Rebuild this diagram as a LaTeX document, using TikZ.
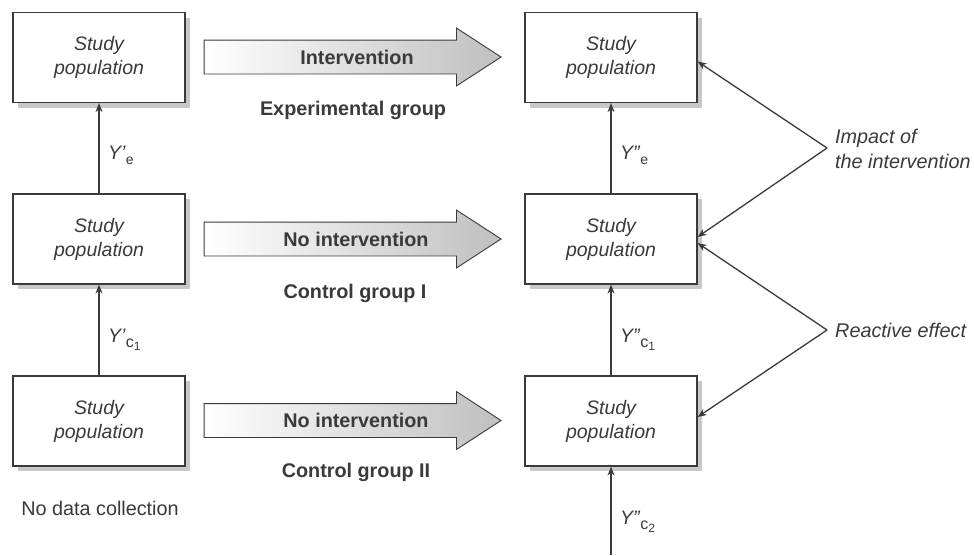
\documentclass[tikz,border=0pt]{standalone}
\usepackage{fontspec}
\setmainfont{Liberation Sans}
\usetikzlibrary{arrows.meta,shapes.arrows,shadows,calc}
\definecolor{ink}{HTML}{3A3A3A}
\definecolor{shade}{HTML}{C8C8C8}
\begin{document}
\begin{tikzpicture}[x=1pt,y=-1pt,
  box/.style={draw=ink, line width=1.2pt, fill=white, minimum width=172pt,
    minimum height=90pt, inner sep=0pt, align=center,
    font=\fontsize{19.5}{24}\selectfont\itshape, text=ink,
    drop shadow={shadow xshift=5pt, shadow yshift=-5pt, fill=shade, opacity=1}},
  bigarrow/.style={single arrow, draw=ink, line width=0.9pt, left color=white,
    right color=gray!50, minimum height=297pt, minimum width=57pt,
    single arrow head extend=12pt, single arrow tip angle=66,
    text height=11pt, text depth=4pt, inner ysep=9pt, inner xsep=0pt},
  grp/.style={font=\fontsize{19.8}{22}\selectfont\bfseries, text=ink, inner sep=0pt},
  plain/.style={font=\fontsize{19.8}{22}\selectfont, text=ink, inner sep=0pt},
  ital/.style={font=\fontsize{19.8}{25}\selectfont\itshape, text=ink, inner sep=0pt, align=left},
  ylab/.style={font=\fontsize{19.5}{22}\selectfont, text=ink, inner sep=0pt},
  conn/.style={draw=ink, line width=1.3pt, -{Stealth[length=9pt,width=7pt]}}
]
\fill[white] (0,0) rectangle (974,555);
\useasboundingbox (0,0) rectangle (974,555);

% boxes
\node[box] (L1) at (99,57.5) {Study\\population};
\node[box] (L2) at (99,239) {Study\\population};
\node[box] (L3) at (99,421) {Study\\population};
\node[box] (R1) at (611,57.5) {Study\\population};
\node[box] (R2) at (611,239) {Study\\population};
\node[box] (R3) at (611,421) {Study\\population};

% big arrows
\node[bigarrow] (A1) at (339.5,57) {};
\node[bigarrow] (A2) at (339.5,239) {};
\node[bigarrow] (A3) at (339.5,420.5) {};
\node[grp] (T1) at (357,57) {Intervention};
\node[grp] (T2) at (356,239) {No intervention};
\node[grp] (T3) at (356,420.5) {No intervention};

% group labels
\node[grp] (G1) at (353,110) {Experimental group};
\node[grp] (G2) at (355,293) {Control group I};
\node[grp] (G3) at (356,472) {Control group II};
\node[plain] (ND) at (100,508) {No data collection};

% vertical connectors
\draw[conn] (L2.north) -- (L1.south);
\draw[conn] (L3.north) -- (L2.south);
\draw[conn] (R2.north) -- (R1.south);
\draw[conn] (R3.north) -- (R2.south);
\coordinate (Rin) at (611,555);
\draw[conn] (Rin) -- (R3.south);

% measurement labels
\node[ylab, anchor=west] (Y1) at (108,155) {\textit{Y'}\raisebox{-5pt}{\fontsize{14}{14}\selectfont e}};
\node[ylab, anchor=west] (Y2) at (108,340) {\textit{Y'}\raisebox{-5pt}{\fontsize{16}{16}\selectfont c\raisebox{-3pt}{\fontsize{12}{12}\selectfont 1}}};
\node[ylab, anchor=west] (Y3) at (620,155) {\textit{Y''}\raisebox{-5pt}{\fontsize{14}{14}\selectfont e}};
\node[ylab, anchor=west] (Y4) at (620,340) {\textit{Y''}\raisebox{-5pt}{\fontsize{16}{16}\selectfont c\raisebox{-3pt}{\fontsize{12}{12}\selectfont 1}}};
\node[ylab, anchor=west] (Y5) at (620,522) {\textit{Y''}\raisebox{-5pt}{\fontsize{16}{16}\selectfont c\raisebox{-3pt}{\fontsize{12}{12}\selectfont 2}}};

% effect annotations
\coordinate (imp) at (827,148);
\node[ital, anchor=west] (IT) at (835,149) {Impact of\\the intervention};
\draw[conn] (imp) -- ([yshift=-4pt]R1.east);
\draw[conn] (imp) -- ([yshift=2pt]R2.east);
\coordinate (rea) at (827,330);
\node[ital, anchor=west] (RE) at (835,330) {Reactive effect};
\draw[conn] (rea) -- ([yshift=-4pt]R2.east);
\draw[conn] (rea) -- ([yshift=4pt]R3.east);
\end{tikzpicture}
\end{document}
